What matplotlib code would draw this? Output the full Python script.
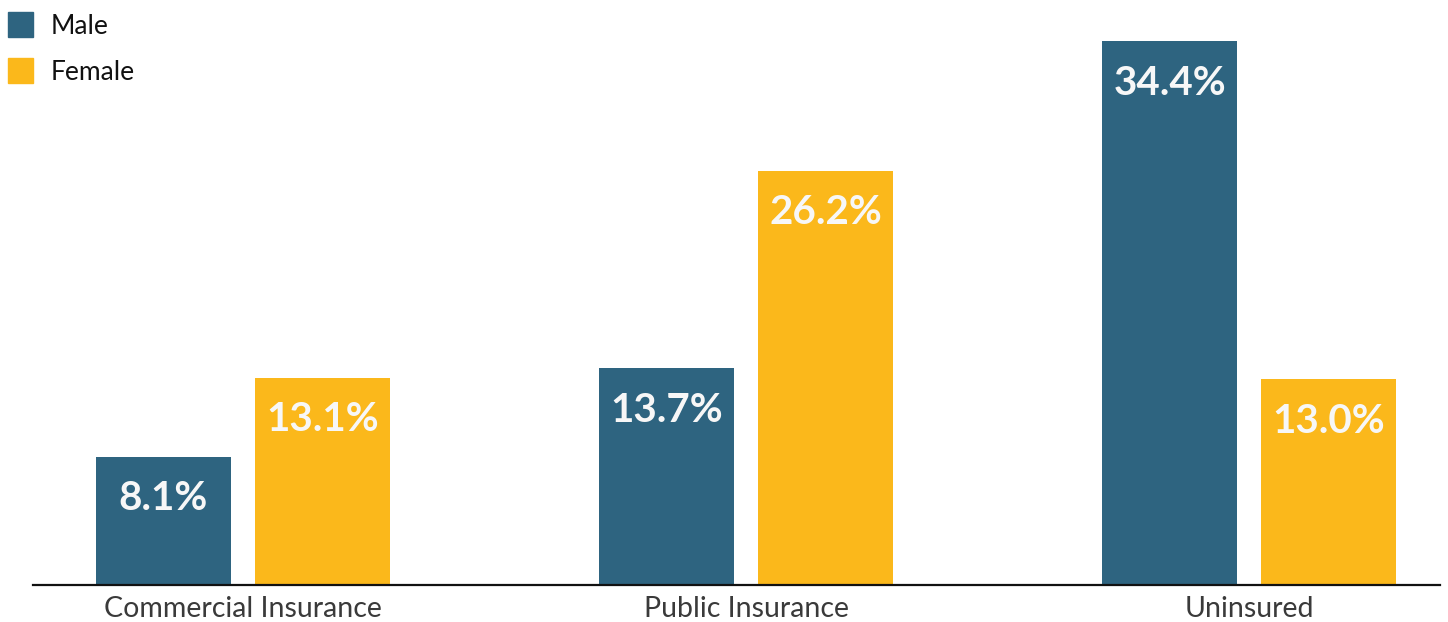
import matplotlib
matplotlib.use("Agg")
import matplotlib.pyplot as plt
from matplotlib.patches import Rectangle
import numpy as np

plt.rcParams['font.family'] = ['Lato', 'DejaVu Sans']

categories = ["Commercial Insurance", "Public Insurance", "Uninsured"]
male = [8.1, 13.7, 34.4]
female = [13.1, 26.2, 13.0]
series_names = ["Male", "Female"]
colors = ["#2E6480", "#FBB81B"]

fig = plt.figure(figsize=(14.48, 6.22), dpi=100)
ax = fig.add_axes([33/1448, 37/622, (1440-33)/1448, 585/622])

x = np.arange(len(categories))
w = 0.268
off = 0.158
b1 = ax.bar(x - off, male, w, color=colors[0])
b2 = ax.bar(x + off, female, w, color=colors[1])

# value labels inside bar tops
for bars, vals in [(b1, male), (b2, female)]:
    for b, v in zip(bars, vals):
        ax.annotate(f"{v:.1f}%", (b.get_x() + b.get_width()/2, v),
                    xytext=(0, -42), textcoords="offset pixels",
                    ha="center", va="center", color="#F7F7F7",
                    fontsize=29, fontweight="bold")

ax.set_xlim(-0.417, 2.379)
ax.set_ylim(0, 37.0)
for s in ["top", "right", "left"]:
    ax.spines[s].set_visible(False)
ax.spines["bottom"].set_linewidth(1.6)
ax.spines["bottom"].set_color("#111111")
ax.set_yticks([])
ax.set_xticks(x)
ax.set_xticklabels(categories, fontsize=20.5, color="#3a3a3a")
ax.tick_params(axis="x", length=0, pad=8)

# legend, top left
for i, (name, c) in enumerate(zip(series_names, colors)):
    ytop = 12 + i*46
    fig.patches.append(Rectangle((8/1448, 1 - (ytop+25)/622), 25/1448, 25/622,
                                 transform=fig.transFigure, color=c))
    fig.text(51/1448, 1 - (ytop+15)/622, name, fontsize=19,
             color="#111111", va="center", ha="left")

fig.savefig("out.png", dpi=100)
